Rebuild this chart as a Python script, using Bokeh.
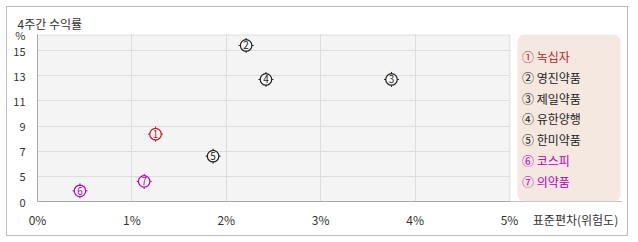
from bokeh.plotting import figure
from bokeh.models import ColumnDataSource, FixedTicker, Label, BoxAnnotation
from bokeh.core.properties import value
from bokeh.embed import file_html
from bokeh.resources import INLINE

# ---- data ----
names = ["녹십자", "영진약품", "제일약품", "유한양행", "한미약품", "코스피", "의약품"]
numbers = ["1", "2", "3", "4", "5", "6", "7"]
circled = ["①", "②", "③", "④", "⑤", "⑥", "⑦"]
std_dev = [1.25, 2.21, 3.75, 2.42, 1.86, 0.45, 1.13]      # x, %
returns_4w = [8.35, 15.4, 12.7, 12.7, 6.6, 3.85, 4.6]     # y, %
y_ticks = [3, 5, 7, 9, 11, 13, 15]
y_tick_labels = ["0", "5", "7", "9", "11", "13", "15"]
x_ticks = [0, 1, 2, 3, 4, 5]
x_tick_labels = ["0%", "1%", "2%", "3%", "4%", "5%"]
title_text = "4주간 수익률"
y_unit = "%"
x_title = "표준편차(위험도)"

RED = "#B81C1C"
DARK = "#222222"
PURPLE = "#B000C0"
colors = [RED, DARK, DARK, DARK, DARK, PURPLE, PURPLE]
TXT = "#333333"
FONT = "Noto Sans CJK KR"

# ---- layout (canvas pixels) ----
W, H = 634, 242
FL, FT, FB, FR = 37, 34, 201, 621     # frame edges (frame extends over legend panel)
PLOT_R = 509                          # right edge of the plotting area (5%)
Y15_PX = 50                           # pixel row of the 15 gridline
PXX = (PLOT_R - FL) / (x_ticks[-1] - x_ticks[0])
PXY = (FB - Y15_PX) / (y_ticks[-1] - y_ticks[0])

def X(px):
    return x_ticks[0] + (px - FL) / PXX

def Y(py):
    return y_ticks[0] + (FB - py) / PXY

X0, X1 = X(FL), X(FR)
Y0, Y1 = Y(FB), Y(FT)

p = figure(width=W, height=H, output_backend="svg", toolbar_location=None,
           x_range=(X0, X1), y_range=(Y0, Y1),
           min_border_left=FL, min_border_right=W - FR,
           min_border_top=FT, min_border_bottom=H - FB,
           styles={"outline": "1px solid #BBBBBB", "outline-offset": "-7px",
                   "background-color": "white"})
p.background_fill_color = "#F4F4F4"
p.border_fill_color = None
p.outline_line_color = None

# title
p.title.text = title_text
p.title.align = "left"
p.title.offset = 17 - FL
p.title.text_font = FONT
p.title.text_font_size = "12px"
p.title.text_font_style = "normal"
p.title.text_color = TXT
p.title.standoff = 5

# axes
for ax in (p.xaxis[0], p.yaxis[0]):
    ax.axis_line_color = "#AAAAAA"
    ax.major_tick_line_color = None
    ax.minor_tick_line_color = None
    ax.major_label_text_font = FONT
    ax.major_label_text_color = TXT
x_title_pos = X(575)
p.xaxis.ticker = FixedTicker(ticks=x_ticks + [x_title_pos])
p.xaxis.major_label_overrides = {**dict(zip(x_ticks, x_tick_labels)), x_title_pos: x_title}
p.xaxis.major_label_text_font_size = "12px"
p.xaxis.major_label_standoff = 3
y_unit_pos = Y1 - 0.001
p.yaxis.ticker = FixedTicker(ticks=y_ticks + [y_unit_pos])
p.yaxis.major_label_overrides = {**dict(zip(y_ticks, y_tick_labels)), y_unit_pos: y_unit}
p.yaxis.major_label_text_font_size = "11px"
p.yaxis.major_label_standoff = 6

p.xgrid.ticker = FixedTicker(ticks=x_ticks)
p.ygrid.ticker = FixedTicker(ticks=y_ticks)
p.xgrid.grid_line_color = "#DDDDDD"
p.ygrid.grid_line_color = "#DDDDDD"

# white area right of the plotting area, plot border, legend panel
p.add_layout(BoxAnnotation(left=x_ticks[-1], fill_color="white", fill_alpha=1, line_color=None))
p.add_layout(BoxAnnotation(left=X0, right=X(PLOT_R + 0.5), bottom=Y0, top=Y(FT + 0.5),
                           fill_color=None, line_color="#AAAAAA", line_width=1))
p.add_layout(BoxAnnotation(left=X(517), right=X(620), top=Y1, bottom=Y0,
                           fill_color="#F5E8E1", fill_alpha=1, line_color=None,
                           border_radius=7))

# points
src = ColumnDataSource(dict(x=std_dev, y=returns_4w, c=colors, t=numbers))
p.scatter("x", "y", source=src, marker="cross", size=15, line_color="c", line_width=1)
p.scatter("x", "y", source=src, marker="circle", size=11.5, line_color="c",
          fill_color="#FAFAFA", line_width=1.2)
p.text("x", "y", text="t", source=src, text_color="c", text_font=value(FONT),
       text_font_size="10px", text_align="center", text_baseline="middle")

# legend items
for i, (c, n, col) in enumerate(zip(circled, names, colors)):
    p.add_layout(Label(x=X(521.5), y=Y(56 + i * 20.8), text=c + " " + n,
                       text_font=FONT, text_font_size="12px", text_color=col,
                       text_align="left", text_baseline="middle"))

open("out.html", "w").write(file_html(p, INLINE))
